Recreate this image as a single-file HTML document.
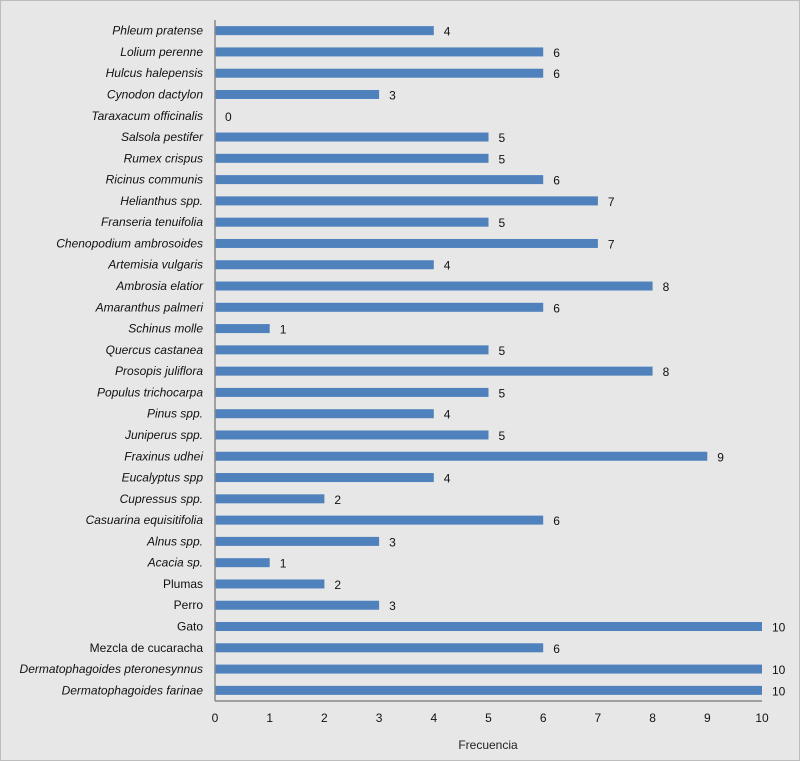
<!DOCTYPE html>
<html><head><meta charset="utf-8"><style>
html,body{margin:0;padding:0;background:#e7e7e7;}
svg{display:block;font-family:"Liberation Sans",Arial,sans-serif;}
</style></head><body>
<svg id="chart" width="800" height="761">
<rect x="0.5" y="0.5" width="799" height="760" fill="#e7e7e7" stroke="#bdbdbd"/>
<g id="bars"></g>
<line x1="215" y1="20" x2="215" y2="701" stroke="#888" stroke-width="1.5"/>
<line x1="215" y1="701" x2="762" y2="701" stroke="#888" stroke-width="1.5"/>
<text x="488" y="749" font-size="12" text-anchor="middle" fill="#222">Frecuencia</text>
</svg>
<script>
const categories=["Phleum pratense","Lolium perenne","Hulcus halepensis","Cynodon dactylon","Taraxacum officinalis","Salsola pestifer","Rumex crispus","Ricinus communis","Helianthus spp.","Franseria tenuifolia","Chenopodium ambrosoides","Artemisia vulgaris","Ambrosia elatior","Amaranthus palmeri","Schinus molle","Quercus castanea","Prosopis juliflora","Populus trichocarpa","Pinus spp.","Juniperus spp.","Fraxinus udhei","Eucalyptus spp","Cupressus spp.","Casuarina equisitifolia","Alnus spp.","Acacia sp.","Plumas","Perro","Gato","Mezcla de cucaracha","Dermatophagoides pteronesynnus","Dermatophagoides farinae"];
const values=[4,6,6,3,0,5,5,6,7,5,7,4,8,6,1,5,8,5,4,5,9,4,2,6,3,1,2,3,10,6,10,10];
const italicFlags=[1,1,1,1,1,1,1,1,1,1,1,1,1,1,1,1,1,1,1,1,1,1,1,1,1,1,0,0,0,0,1,1];
const xTicks=[0,1,2,3,4,5,6,7,8,9,10];
const NS="http://www.w3.org/2000/svg";
const svgEl=document.getElementById('chart'),g=document.getElementById('bars');
const x0=215,x1=762,yTop=20,yBot=701,xmax=10;
const xs=v=>x0+(x1-x0)*v/xmax;
const band=(yBot-yTop)/categories.length;
const yc=i=>yTop+band*(i+0.5);
function mk(tag,attrs){const e=document.createElementNS(NS,tag);for(const k in attrs)e.setAttribute(k,attrs[k]);return e;}
categories.forEach((c,i)=>{
  const y=yc(i);
  const r=mk('rect',{x:xs(0),y:y-4.5,width:xs(values[i])-xs(0),height:9,fill:'#4f81bd'});
  
  
  g.appendChild(r);
  const l=mk('text',{x:203,y:y+4,'font-size':12,'text-anchor':'end',fill:'#111','font-style':italicFlags[i]?'italic':'normal'});
  l.textContent=c;
  
  
  g.appendChild(l);
  const v=mk('text',{x:xs(values[i])+10,y:y+5,'font-size':12,fill:'#111'});
  v.textContent=values[i];
  
  
  g.appendChild(v);
});
xTicks.forEach(t=>{
  const e=mk('text',{x:xs(t),y:722,'font-size':12,'text-anchor':'middle',fill:'#111'});
  e.textContent=t;
  
  
  svgEl.appendChild(e);
});
</script>
</body></html>
